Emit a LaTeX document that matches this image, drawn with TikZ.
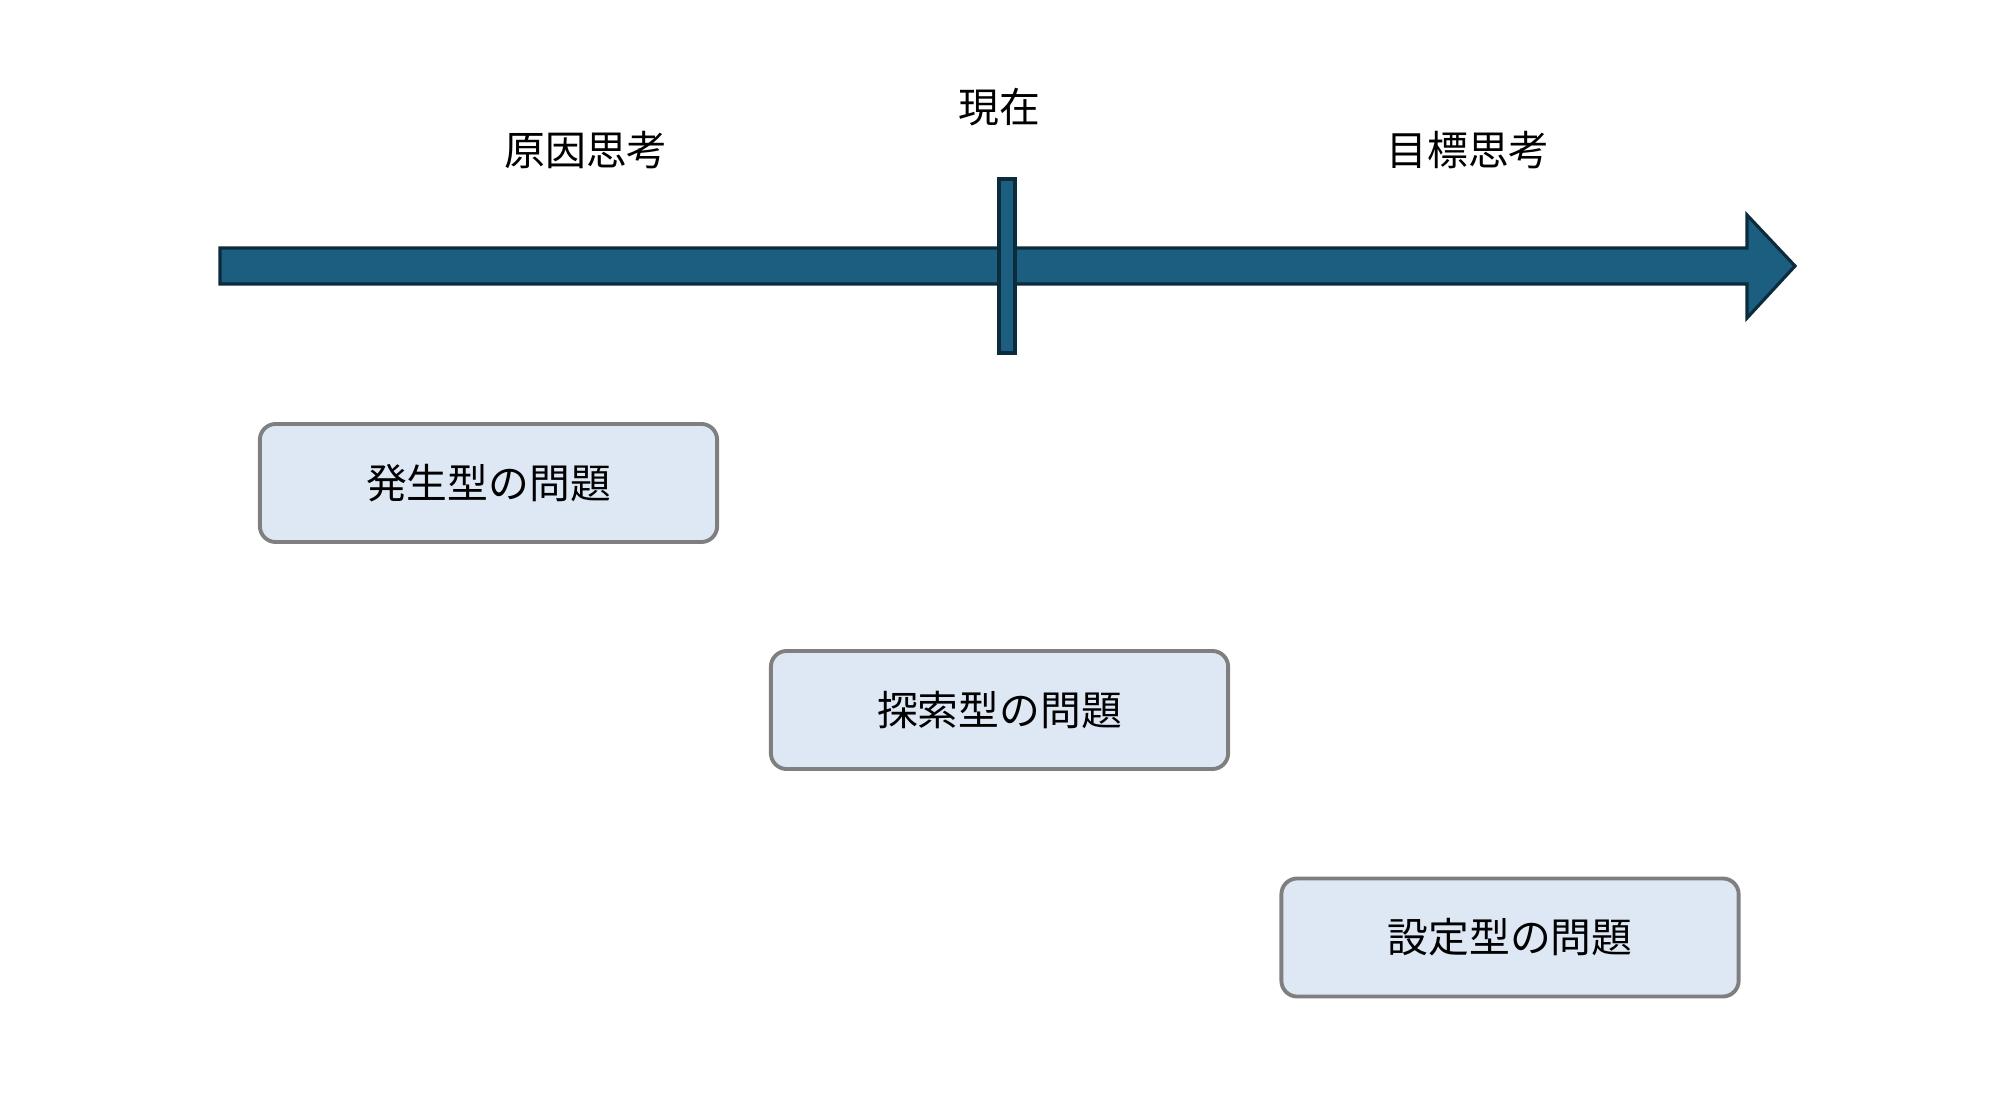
\documentclass[tikz,border=0pt]{standalone}
\usepackage{fontspec}
\setmainfont{Noto Sans CJK JP}
\usetikzlibrary{positioning}
\definecolor{jikufill}{HTML}{1B5E7F}
\definecolor{jikuline}{HTML}{0C2B3C}
\definecolor{boxfill}{HTML}{DEE8F5}
\definecolor{waku}{HTML}{7F7F7F}

\begin{document}
\begin{tikzpicture}[
      x=0.01cm, y=-0.01cm,
      jiku/.style={draw=jikuline, fill=jikufill, line width=0.9pt},
      mondai/.style={draw=waku, fill=boxfill, rounded corners=4.5pt, line width=1.1pt, minimum width=4.57cm, minimum height=1.18cm, align=center, font=\fontsize{11.6}{14}\selectfont},
      midashi/.style={font=\fontsize{11.6}{14}\selectfont}
  ]
      \useasboundingbox (0,0) rectangle (1998,1104);

      % Eixo do tempo
      \draw[jiku] (220,248) -- (1747,248) -- (1747,215) -- (1795,266) -- (1747,318) -- (1747,284) -- (220,284) -- cycle;
      \node[jiku, inner sep=0pt, minimum width=0.16cm, minimum height=1.74cm] (genzaisen) at (1007,266) {};

      % Rótulos
      \node[midashi] (genin) at (586,150) {原因思考};
      \node[midashi] (genzai) at (999,107) {現在};
      \node[midashi] (mokuhyo) at (1468,150) {目標思考};

      % Tipos de problema
      \node[mondai] (hassei) at (488.5,483) {発生型の問題};
      \node[mondai] (tansaku) at (999.5,710) {探索型の問題};
      \node[mondai] (settei) at (1510,937.5) {設定型の問題};
  \end{tikzpicture}
\end{document}
